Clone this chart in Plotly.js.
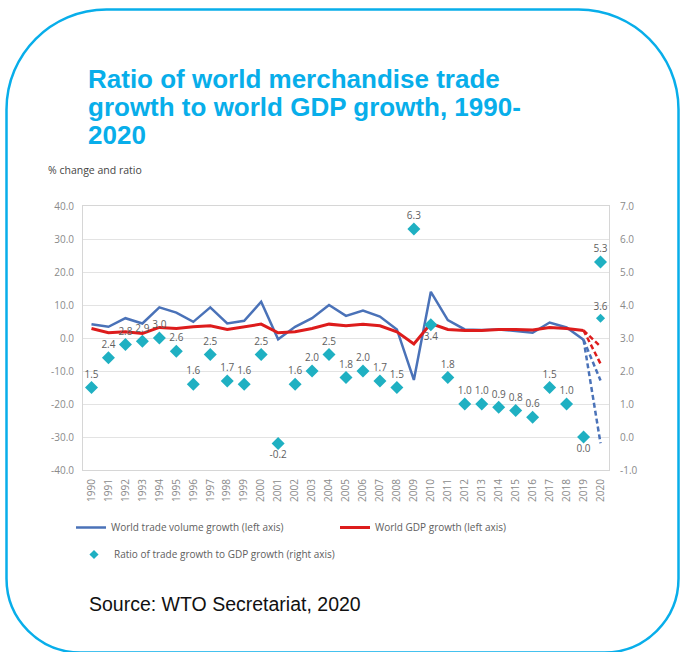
<!DOCTYPE html>
<html>
<head>
<meta charset="utf-8">
<script src="https://cdn.plot.ly/plotly-3.0.1.min.js"></script>
<style>
  html, body { margin: 0; padding: 0; background: #ffffff; }
  #chart { width: 683px; height: 652px; }
</style>
</head>
<body>
<div id="chart"></div>
<script>
// ---------------- data ----------------
const years = ["1990","1991","1992","1993","1994","1995","1996","1997","1998","1999",
               "2000","2001","2002","2003","2004","2005","2006","2007","2008","2009",
               "2010","2011","2012","2013","2014","2015","2016","2017","2018","2019","2020"];
const yearsSolid = years.slice(0, 30); // 1990-2019

const tradeVolumeGrowth = [4.2, 3.4, 6.0, 4.4, 9.3, 7.7, 4.9, 9.3, 4.4, 5.2,
                           11.0, -0.4, 3.4, 6.0, 10.0, 6.7, 8.3, 6.5, 2.6, -12.7,
                           14.0, 5.4, 2.6, 2.4, 2.6, 2.1, 1.6, 4.7, 3.2, -0.5];
const gdpGrowth = [2.9, 1.6, 1.9, 1.4, 3.2, 2.9, 3.4, 3.7, 2.6, 3.4,
                   4.2, 1.6, 1.9, 2.9, 4.2, 3.7, 4.2, 3.7, 1.9, -1.8,
                   4.4, 2.6, 2.3, 2.3, 2.6, 2.6, 2.4, 3.2, 2.9, 2.3];

const ratio = [1.5, 2.4, 2.8, 2.9, 3.0, 2.6, 1.6, 2.5, 1.7, 1.6,
               2.5, -0.2, 1.6, 2.0, 2.5, 1.8, 2.0, 1.7, 1.5, 6.3,
               3.4, 1.8, 1.0, 1.0, 0.9, 0.8, 0.6, 1.5, 1.0, 0.0, 5.3];
const ratio2020Alt = [3.6];

// 2020 projections (optimistic / pessimistic)
const scenarioYears = ["2019", "2020"];
const tradeOptimistic2020 = -12.9;
const tradePessimistic2020 = -31.9;
const gdpOptimistic2020 = -2.6;
const gdpPessimistic2020 = -7.8;

const leftTicks = [-40, -30, -20, -10, 0, 10, 20, 30, 40];
const rightTicks = [-1, 0, 1, 2, 3, 4, 5, 6, 7];

// ---------------- geometry helpers ----------------
const W = 683, H = 652;
const M = { l: 83, r: 74, t: 206, b: 182 };
const pw = W - M.l - M.r, ph = H - M.t - M.b;
const px = x => (x - M.l) / pw;
const py = y => (H - M.b - y) / ph;

const BLUE = "#4a72b8";
const RED = "#dd1c1c";
const TEAL = "#1fb0c2";
const CYAN = "#08aeea";
const TICK = "#8a8a8a";
const LAB = "#606060";

const last = a => a[a.length - 1];

const labelPos = ratio.map((v, i) => {
  const y = years[i];
  if (y === "2001" || y === "2019" || y === "2010") return "bottom center";
  return "top center";
});

const labelFont = { family: "Open Sans, sans-serif", size: 10, color: LAB };
const ratioName = "Ratio of trade growth to GDP growth (right axis)";

const traces = [
  {
    x: yearsSolid, y: tradeVolumeGrowth, type: "scatter", mode: "lines",
    name: "World trade volume growth (left axis)",
    line: { color: BLUE, width: 2.5 }, yaxis: "y", legend: "legend"
  },
  {
    x: yearsSolid, y: gdpGrowth, type: "scatter", mode: "lines",
    name: "World GDP growth (left axis)",
    line: { color: RED, width: 3 }, yaxis: "y", legend: "legend3"
  },
  {
    x: scenarioYears, y: [last(tradeVolumeGrowth), tradeOptimistic2020], type: "scatter", mode: "lines",
    showlegend: false, line: { color: BLUE, width: 2.5, dash: "5px,3px" }, yaxis: "y"
  },
  {
    x: scenarioYears, y: [last(tradeVolumeGrowth), tradePessimistic2020], type: "scatter", mode: "lines",
    showlegend: false, line: { color: BLUE, width: 2.5, dash: "5px,3px" }, yaxis: "y"
  },
  {
    x: scenarioYears, y: [last(gdpGrowth), gdpOptimistic2020], type: "scatter", mode: "lines",
    showlegend: false, line: { color: RED, width: 2.5, dash: "5px,3px" }, yaxis: "y"
  },
  {
    x: scenarioYears, y: [last(gdpGrowth), gdpPessimistic2020], type: "scatter", mode: "lines",
    showlegend: false, line: { color: RED, width: 2.5, dash: "5px,3px" }, yaxis: "y"
  },
  {
    x: years, y: ratio, type: "scatter", mode: "markers+text",
    name: ratioName, showlegend: false, legendgroup: "ratio",
    marker: { symbol: "diamond", color: TEAL, size: 10 },
    text: ratio.map(v => v.toFixed(1)), textposition: labelPos,
    textfont: labelFont,
    yaxis: "y2", cliponaxis: false
  },
  {
    x: ["2020"], y: ratio2020Alt, type: "scatter", mode: "markers+text",
    showlegend: false, legendgroup: "ratio",
    marker: { symbol: "diamond", color: TEAL, size: 7 },
    text: ratio2020Alt.map(v => v.toFixed(1)), textposition: "top center",
    textfont: labelFont,
    yaxis: "y2", cliponaxis: false
  },
  {
    // legend entry only (no data drawn)
    x: [null], y: [null], type: "scatter", mode: "markers",
    name: ratioName, legendgroup: "ratio", legend: "legend2",
    marker: { symbol: "diamond", color: TEAL, size: 7 }, yaxis: "y2"
  }
];

// rounded border
const bL = 6.5, bR = 678.5, bT = 9.5, bB = 652.5, rT = 100, rB = 74, k = 0.5523;
const P = (x, y) => px(x) + "," + py(y);
const borderPath =
  "M" + P(bL + rT, bT) +
  " L" + P(bR - rT, bT) +
  " C" + P(bR - rT + k * rT, bT) + " " + P(bR, bT + rT - k * rT) + " " + P(bR, bT + rT) +
  " L" + P(bR, bB - rB) +
  " C" + P(bR, bB - rB + k * rB) + " " + P(bR - rB + k * rB, bB) + " " + P(bR - rB, bB) +
  " L" + P(bL + rB, bB) +
  " C" + P(bL + rB - k * rB, bB) + " " + P(bL, bB - rB + k * rB) + " " + P(bL, bB - rB) +
  " L" + P(bL, bT + rT) +
  " C" + P(bL, bT + rT - k * rT) + " " + P(bL + rT - k * rT, bT) + " " + P(bL + rT, bT) + " Z";

const titleFont = { family: "Liberation Sans, Arial, sans-serif", size: 26, color: CYAN };
const titleLines = ["Ratio of world merchandise trade", "growth to world GDP growth, 1990-", "2020"];
const titleY = [79, 107, 135];

const annotations = titleLines.map((t, i) => ({
  xref: "paper", yref: "paper", x: px(86), y: py(titleY[i]),
  xanchor: "left", yanchor: "middle", showarrow: false,
  text: "<b>" + t + "</b>", font: titleFont
}));
annotations.push({
  xref: "paper", yref: "paper", x: px(46), y: py(170),
  xanchor: "left", yanchor: "middle", showarrow: false,
  text: "% change and ratio",
  font: { family: "Open Sans, sans-serif", size: 10.5, color: "#454545" }
});
annotations.push({
  xref: "paper", yref: "paper", x: px(87), y: py(604),
  xanchor: "left", yanchor: "middle", showarrow: false,
  text: "Source: WTO Secretariat, 2020",
  font: { family: "Liberation Sans, Arial, sans-serif", size: 19.5, color: "#111111" }
});

const legendBase = {
  orientation: "h", xref: "paper", yref: "paper",
  xanchor: "left", yanchor: "top",
  font: { family: "Open Sans, sans-serif", size: 10, color: LAB },
  bgcolor: "rgba(0,0,0,0)", itemclick: false, itemdoubleclick: false
};

const layout = {
  width: W, height: H,
  margin: M,
  paper_bgcolor: "#ffffff", plot_bgcolor: "#ffffff",
  font: { family: "Open Sans, sans-serif", size: 10, color: TICK },
  showlegend: true,
  xaxis: {
    type: "category", categoryorder: "array", categoryarray: years,
    range: [-0.5, years.length - 0.5],
    tickangle: -90, showgrid: false, zeroline: false,
    showline: true, linecolor: "#d6d6d6", linewidth: 1, mirror: true,
    ticks: "", ticklabelstandoff: 4,
    tickfont: { family: "Open Sans, sans-serif", size: 10, color: TICK },
    fixedrange: true
  },
  yaxis: {
    range: [-40, 40], tickvals: leftTicks, ticktext: leftTicks.map(v => v.toFixed(1)),
    showgrid: true, gridcolor: "#e3e3e3", gridwidth: 1, zeroline: false,
    showline: true, linecolor: "#d6d6d6", linewidth: 1, mirror: true,
    ticks: "", ticklabelstandoff: 6,
    tickfont: { family: "Open Sans, sans-serif", size: 10, color: TICK }
  },
  yaxis2: {
    range: [-1, 7], tickvals: rightTicks, ticktext: rightTicks.map(v => v.toFixed(1)),
    overlaying: "y", side: "right", showgrid: false, zeroline: false,
    showline: false, ticks: "", ticklabelstandoff: 10,
    tickfont: { family: "Open Sans, sans-serif", size: 10, color: TICK }
  },
  legend: Object.assign({}, legendBase, { x: px(71), y: py(513) }),
  legend3: Object.assign({}, legendBase, { x: px(335), y: py(513) }),
  legend2: Object.assign({}, legendBase, { x: px(74), y: py(540) }),
  annotations: annotations,
  shapes: [{
    type: "path", xref: "paper", yref: "paper", path: borderPath,
    line: { color: CYAN, width: 2.5 }, fillcolor: "rgba(0,0,0,0)", layer: "above"
  }]
};

Plotly.newPlot("chart", traces, layout, { displayModeBar: false, staticPlot: true });
</script>
</body>
</html>
